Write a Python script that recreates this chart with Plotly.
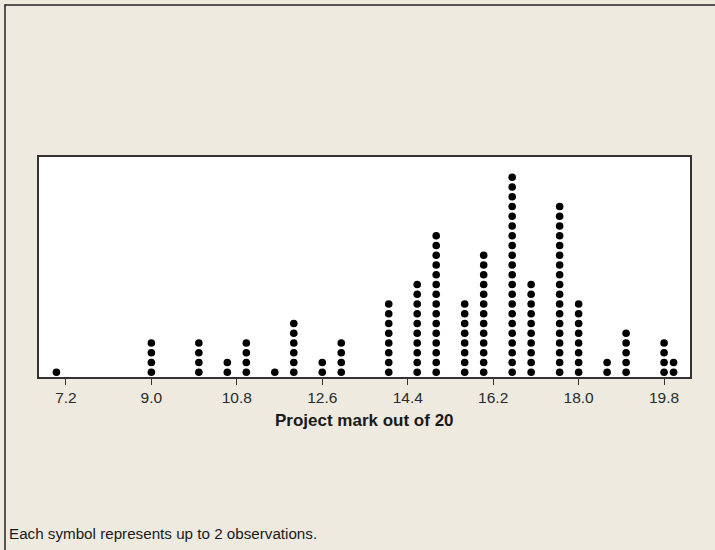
import plotly.graph_objects as go

# Dotplot of project marks; each symbol stands for up to 2 observations
mark_bins = [7.0, 9.0, 10.0, 10.6, 11.0, 11.6, 12.0, 12.6, 13.0, 14.0, 14.6,
             15.0, 15.6, 16.0, 16.6, 17.0, 17.6, 18.0, 18.6, 19.0, 19.8, 20.0]
symbol_counts = [1, 4, 4, 2, 4, 1, 6, 2, 4, 8, 10,
                 15, 8, 13, 21, 10, 18, 8, 2, 5, 4, 2]
tick_values = [7.2, 9.0, 10.8, 12.6, 14.4, 16.2, 18.0, 19.8]
tick_labels = ["7.2", "9.0", "10.8", "12.6", "14.4", "16.2", "18.0", "19.8"]

# Stack symbols vertically: one point per symbol
xs, ys = [], []
for m, n in zip(mark_bins, symbol_counts):
    for k in range(1, n + 1):
        xs.append(m)
        ys.append(k)

BG = "#EEEAE0"
FONT = "Liberation Sans, Arial, sans-serif"

fig = go.Figure(go.Scatter(
    x=xs, y=ys, mode="markers",
    marker=dict(color="black", size=7.6, line=dict(width=0)),
    hoverinfo="x",
))

# plot area: x 39..690 px, y 157..377 px
L, R, T, B = 39, 690, 157, 377
W, H = 715, 550

def px_x(p):
    return (p - L) / (R - L)

def px_y(p):
    return (B - p) / (B - T)

fig.update_layout(
    width=W, height=H,
    margin=dict(l=L, r=W - R, t=T, b=H - B, pad=0),
    paper_bgcolor=BG, plot_bgcolor="white",
    showlegend=False,
    font=dict(family=FONT, color="#222"),
    xaxis=dict(
        range=[6.633, 20.346], tickmode="array",
        tickvals=tick_values, ticktext=tick_labels,
        ticks="outside", ticklen=6, tickwidth=1, tickcolor="#333",
        tickfont=dict(size=15.5, color="#2a2a2a"),
        showgrid=False, zeroline=False,
        showline=True, linecolor="#333", linewidth=1.5, mirror=True,
    ),
    yaxis=dict(
        range=[0.52, 23.08], showticklabels=False, ticks="",
        showgrid=False, zeroline=False,
        showline=True, linecolor="#333", linewidth=1.5, mirror=True,
    ),
    annotations=[
        dict(text="<b>Project mark out of 20</b>", xref="paper", yref="paper",
             x=px_x(364), y=px_y(420), xanchor="center", yanchor="middle",
             showarrow=False, font=dict(size=17, color="#1a1a1a", family=FONT)),
        dict(text="Each symbol represents up to 2 observations.",
             xref="paper", yref="paper",
             x=px_x(7), y=px_y(533), xanchor="left", yanchor="middle",
             showarrow=False, font=dict(size=15.2, color="#1a1a1a", family=FONT)),
    ],
    shapes=[
        # outer frame: top and left edges
        dict(type="line", xref="paper", yref="paper",
             x0=px_x(4.5), x1=px_x(720), y0=px_y(5), y1=px_y(5),
             line=dict(color="#222", width=1.5)),
        dict(type="line", xref="paper", yref="paper",
             x0=px_x(5), x1=px_x(5), y0=px_y(4.5), y1=px_y(560),
             line=dict(color="#222", width=1.5)),
    ],
)

fig.write_html("out.html")
